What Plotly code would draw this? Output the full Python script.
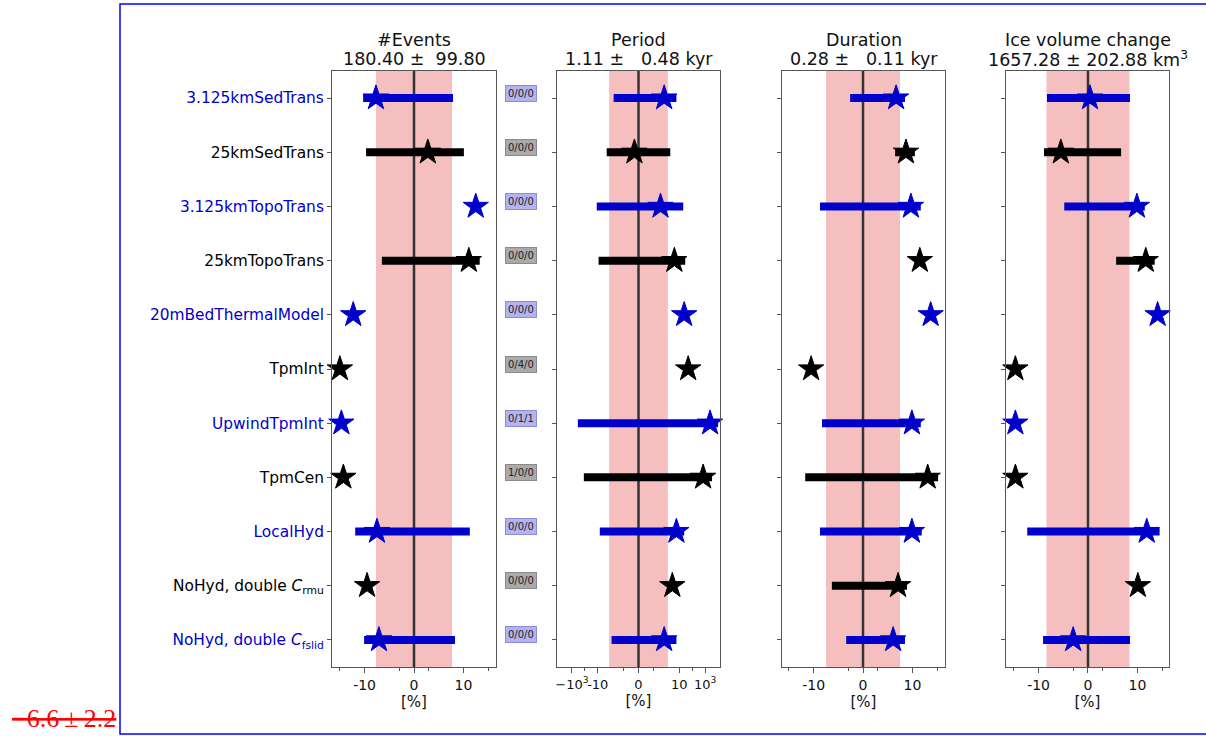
import numpy as np
import plotly.graph_objects as go

W, H = 1206, 736

# ---------------- data ----------------
run_labels = [
    "3.125kmSedTrans", "25kmSedTrans", "3.125kmTopoTrans", "25kmTopoTrans",
    "20mBedThermalModel", "TpmInt", "UpwindTpmInt", "TpmCen", "LocalHyd",
    "NoHyd, double <i>C</i><sub>rmu</sub>", "NoHyd, double <i>C</i><sub>fslid</sub>",
]
run_colors = ["#0000cc", "#000000"] * 5 + ["#0000cc"]
badge_text = ["0/0/0", "0/0/0", "0/0/0", "0/0/0", "0/0/0", "0/4/0",
              "0/1/1", "1/0/0", "0/0/0", "0/0/0", "0/0/0"]

events_mid = [-7.7, 2.8, 12.5, 11.1, -12.3, -15.0, -14.7, -14.3, -7.5, -9.5, -7.1]
events_lo = [-10.3, -9.7, None, -6.5, None, None, None, None, -11.9, None, -10.1]
events_hi = [7.9, 10.1, None, 13.3, None, None, None, None, 11.3, None, 8.3]

period_mid = [6.3, -1.0, 5.4, 8.8, 24.0, 49.0, 2400.0, 700.0, 9.3, 8.3, 6.3]
period_lo = [-6.1, -7.8, -11.9, -9.8, None, None, -344.0, -119.0, -9.5, None, -6.6]
period_hi = [9.3, 7.8, 20.3, 28.9, None, None, 10000.0, 3430.0, 24.0, None, 9.3]

duration_mid = [6.7, 8.7, 9.7, 11.5, 13.7, -10.5, 9.9, 13.1, 9.9, 7.1, 6.1]
duration_lo = [-2.6, 6.5, -8.7, None, None, None, -8.3, -11.7, -8.7, -6.3, -3.4]
duration_hi = [8.5, 10.5, 11.7, None, None, None, 11.7, 15.2, 11.9, 8.9, 8.5]

ice_mid = [0.4, -5.5, 9.9, 11.7, 14.1, -14.7, -14.7, -14.7, 11.9, 10.1, -3.0]
ice_lo = [-8.3, -8.9, -4.8, 5.7, None, None, None, None, -12.3, None, -9.1]
ice_hi = [8.5, 6.7, 11.5, 13.5, None, None, None, None, 14.5, None, 8.5]

panel_names = ["#Events", "Period", "Duration", "Ice volume change"]
panel_stats = ["180.40 \u00b1\u00a0\u00a099.80",
               "1.11 \u00b1\u00a0\u00a0\u00a00.48 kyr",
               "0.28 \u00b1\u00a0\u00a0\u00a00.11 kyr",
               "1657.28 \u00b1 202.88 km<sup>3</sup>"]
band_half = [7.7, 7.2, 7.5, 8.4]

# ---------------- symlog transform for the Period axis ----------------
LIN_THRESH = 10.0
LIN_SPAN = 3.15


def symlog(v):
    if v is None:
        return None
    a = abs(v)
    if a <= LIN_THRESH:
        return v / LIN_THRESH * LIN_SPAN
    return float(np.sign(v) * (LIN_SPAN + np.log10(a / LIN_THRESH)))


ident = lambda v: v

panels = [
    dict(mid=events_mid, lo=events_lo, hi=events_hi, f=ident, rng=[-16.6, 16.6],
         px=(332, 496)),
    dict(mid=period_mid, lo=period_lo, hi=period_hi, f=symlog, rng=[-6.3, 6.3],
         px=(557, 720)),
    dict(mid=duration_mid, lo=duration_lo, hi=duration_hi, f=ident, rng=[-16.4, 16.6],
         px=(782, 945)),
    dict(mid=ice_mid, lo=ice_lo, hi=ice_hi, f=ident, rng=[-16.6, 16.4],
         px=(1006, 1169)),
]

Y_TOP, Y_BOT = 71, 667
ydom = [1 - Y_BOT / H, 1 - Y_TOP / H]
rows = list(range(len(run_labels)))

fig = go.Figure()
font = "DejaVu Sans"

for i, p in enumerate(panels):
    k = "" if i == 0 else str(i + 1)
    xa, ya = "x" + k, "y" + k
    f = p["f"]
    # error bars, one trace per colour
    for col in ["#0000cc", "#000000"]:
        xs, ys = [], []
        for r in rows:
            if run_colors[r] != col or p["lo"][r] is None:
                continue
            xs += [f(p["lo"][r]), f(p["hi"][r]), None]
            ys += [r, r, None]
        fig.add_trace(go.Scatter(x=xs, y=ys, mode="lines", xaxis=xa, yaxis=ya,
                                 line=dict(color=col, width=8), showlegend=False,
                                 hoverinfo="skip", cliponaxis=True))
    # central estimates
    fig.add_trace(go.Scatter(x=[f(v) for v in p["mid"]], y=rows, mode="markers",
                             xaxis=xa, yaxis=ya, showlegend=False, cliponaxis=False,
                             marker=dict(symbol="star", size=19, color=run_colors,
                                         line=dict(color=run_colors, width=1))))
    # reference band and zero line
    fig.add_shape(type="rect", xref=xa, yref=ya + " domain",
                  x0=f(-band_half[i]), x1=f(band_half[i]), y0=0, y1=1,
                  fillcolor="#f5bfbf", line_width=0, layer="below")
    fig.add_shape(type="line", xref=xa, yref=ya + " domain", x0=0, x1=0, y0=0, y1=1,
                  line=dict(color="#333333", width=2.5), layer="below")

    xdom = [p["px"][0] / W, p["px"][1] / W]
    if f is symlog:
        tv = [symlog(v) for v in [-1000, -10, 0, 10, 1000]]
        tt = ["\u221210<sup>3</sup>", "-10", "0", "10", "10<sup>3</sup>"]
        minor_v = [symlog(v) for v in [-100, -3.7, 3.7, 100]]
        tick_size = 13
    else:
        tv = [-10, 0, 10]
        tt = ["-10", "0", "10"]
        minor_v = [-15, -3, 3, 15]
        tick_size = 14
    fig.layout["xaxis" + k] = dict(
        domain=xdom, anchor=ya, range=p["rng"], showgrid=False, zeroline=False,
        showline=True, mirror=True, linecolor="#555555", linewidth=1,
        ticks="outside", ticklen=5, tickcolor="#555555", tickangle=0,
        tickmode="array", tickvals=tv, ticktext=tt,
        tickfont=dict(family=font, size=tick_size, color="#111111"),
        minor=dict(tickmode="array", tickvals=minor_v, ticks="outside", ticklen=3,
                   tickcolor="#555555"),
        title=dict(text="[%]", font=dict(family=font, size=15, color="#111111"),
                   standoff=3),
    )
    ylab = [f"<span style='color:{c}'>{t}</span>" for t, c in zip(run_labels, run_colors)]
    fig.layout["yaxis" + k] = dict(
        domain=ydom, anchor=xa, range=[len(rows) - 0.5, -0.5], showgrid=False,
        zeroline=False, showline=True, mirror=True, linecolor="#555555", linewidth=1,
        ticks="outside", ticklen=4, tickcolor="#555555",
        tickmode="array", tickvals=rows, ticktext=ylab,
        showticklabels=(i == 0), tickfont=dict(family=font, size=15.4),
    )
    cx = (p["px"][0] + p["px"][1]) / 2 / W
    fig.add_annotation(x=cx, y=1 - 40 / H, xref="paper", yref="paper", showarrow=False,
                       text=panel_names[i], font=dict(family=font, size=17.5, color="#111111"),
                       xanchor="center", yanchor="middle")
    fig.add_annotation(x=cx, y=1 - 59 / H, xref="paper", yref="paper", showarrow=False,
                       text=panel_stats[i], font=dict(family=font, size=17.5, color="#111111"),
                       xanchor="center", yanchor="middle")

# status badges between the first two panels
for r in rows:
    blue = run_colors[r] != "#000000"
    fig.add_annotation(x=521 / W, y=r, xref="paper", yref="y", yshift=5,
                       showarrow=False, text=badge_text[r],
                       font=dict(family=font, size=10, color="#222222"),
                       bgcolor="#b3b3f0" if blue else "#aaaaaa",
                       bordercolor="#8c8cd9" if blue else "#8a8a8a",
                       borderwidth=1, borderpad=2)

# outer frame
fig.add_shape(type="rect", xref="paper", yref="paper",
              x0=120 / W, x1=1.02, y0=1 - 734 / H, y1=1 - 4 / H,
              line=dict(color="#0000ff", width=1.5), fillcolor="rgba(0,0,0,0)")

fig.add_annotation(x=10 / W, y=1 - 718 / H, xref="paper", yref="paper", showarrow=False,
                   xanchor="left", yanchor="middle",
                   text="<s>\u22126.6\u2009\u00b1\u20092.2</s>",
                   font=dict(family="Liberation Serif", size=26, color="#ff0000"))

fig.update_layout(width=W, height=H, autosize=False,
                  margin=dict(l=0, r=0, t=0, b=0, autoexpand=False),
                  paper_bgcolor="white", plot_bgcolor="white",
                  font=dict(family=font, color="#111111"))

fig.write_html("out.html", config={"responsive": False})
